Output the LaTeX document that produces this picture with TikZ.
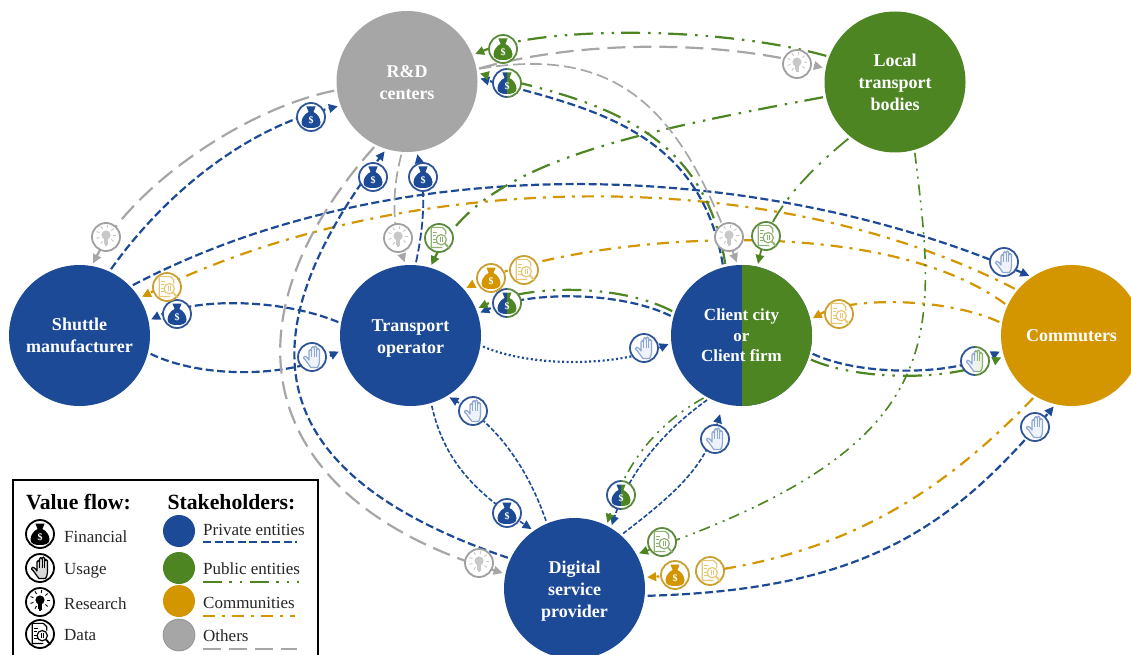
\documentclass[tikz,border=0pt]{standalone}
\usepackage{fontspec}
\setmainfont{Liberation Serif}
\usetikzlibrary{arrows.meta}
\definecolor{cbl}{HTML}{1C4A96}
\definecolor{cgr}{HTML}{4C8522}
\definecolor{cor}{HTML}{D39500}
\definecolor{cgy}{HTML}{A6A6A6}
\definecolor{rbl}{HTML}{2F5597}
\definecolor{rgr}{HTML}{5B8A3C}
\definecolor{ror}{HTML}{C9A030}
\definecolor{rgy}{HTML}{A0A0A0}
\definecolor{tbl}{HTML}{8FA8D4}
\definecolor{tgr}{HTML}{8DB272}
\definecolor{tor}{HTML}{E8C676}
\definecolor{tgy}{HTML}{C8C8C8}
\tikzset{
 x=1pt,y=-1pt,
 actor/.style={circle,minimum size=141pt,inner sep=0pt,outer sep=0pt,text=white,align=center,
   font=\bfseries\fontsize{18}{22}\selectfont},
 badge/.style={circle,minimum size=28pt,inner sep=0pt,outer sep=0pt,fill=white,line width=1.8pt},
 flow/.style={-{Triangle[length=9pt,width=8.5pt]},shorten >=3pt,shorten <=3pt},
 fpri/.style={flow,draw=cbl,line width=2.2pt,dash pattern=on 8pt off 3.5pt},
 fprit/.style={flow,draw=cbl,line width=1.6pt,dash pattern=on 4.5pt off 2pt},
 fdot/.style={flow,draw=cbl,line width=2.2pt,dash pattern=on 2pt off 2.5pt},
 fpub/.style={flow,draw=cgr,line width=2.2pt,dash pattern=on 19pt off 7pt on 2.5pt off 8pt on 2.5pt off 8pt},
 fpubt/.style={flow,draw=cgr,line width=1.6pt,dash pattern=on 11pt off 5pt on 2pt off 6pt on 2pt off 6pt},
 forg/.style={flow,draw=cor,line width=2.2pt,dash pattern=on 12pt off 7pt on 3pt off 7pt},
 foth/.style={flow,draw=cgy,line width=2.2pt,dash pattern=on 18pt off 8pt},
 otht/.style={flow,draw=cgy,line width=1.7pt,dash pattern=on 12pt off 5pt},
 legtxt/.style={anchor=west,inner sep=0pt,font=\fontsize{17}{18}\selectfont,text=black!85},
 legttl/.style={font=\bfseries\fontsize{21.7}{22}\selectfont},
 legdot/.style={circle,minimum size=32pt,inner sep=0pt,outer sep=0pt},
}
% icon bodies, drawn round the origin of the current scope
\newcommand\bagbody[2]{% colour, name
 \fill[#1] (-2.4,-5) .. controls (-6,-3.5) and (-9.5,1) .. (-9.5,5.5) .. controls (-9.5,10) and (-5,11) .. (0,11)
  .. controls (5,11) and (9.5,10) .. (9.5,5.5) .. controls (9.5,1) and (6,-3.5) .. (2.4,-5) -- (4.6,-10.5)
  .. controls (2.5,-9.5) and (1,-11.5) .. (0,-10.5) .. controls (-1,-11.5) and (-2.5,-9.5) .. (-4.6,-10.5) -- cycle;
 \node[text=white,inner sep=0pt,font=\bfseries\fontsize{10}{10}\selectfont] (#2-s) at (0,3.5) {\$};}
\newcommand\handbody[1]{\begin{scope}[xshift=2pt]
 \draw[#1,line width=1.2pt,line join=round,fill=#1!15] (-3,10.5) .. controls (-6,7) and (-8,3) .. (-10.5,1)
  .. controls (-11.5,-1) and (-8.5,-1.5) .. (-6.5,1) -- (-5,3) -- (-5,-6) .. controls (-5,-8) and (-2.5,-8) .. (-2.5,-6)
  -- (-2.5,-9) .. controls (-2.5,-11) and (0,-11) .. (0,-9) -- (0,-9.5) .. controls (0,-11.5) and (2.7,-11.5) .. (2.7,-9.5)
  -- (2.7,-7) .. controls (2.7,-9) and (5.5,-9) .. (5.5,-7) -- (5.5,4) .. controls (5.5,7) and (4.5,9) .. (3.5,10.5) -- cycle;
 \draw[#1,line width=0.8pt] (-2.5,-6) -- (-2.5,0) (0,-9) -- (0,0) (2.7,-7) -- (2.7,0);\end{scope}}
\newcommand\bulbbody[1]{%
 \fill[#1] (0,-2) circle (4.6);
 \fill[#1] (-2.4,1) rectangle (2.4,6.5);
 \fill[#1] (-1.4,6.5) rectangle (1.4,8.5);
 \foreach \a in {0,40,...,320}{\draw[#1,line width=0.9pt] ([shift={(0,-2)}]\a:7) -- ([shift={(0,-2)}]\a:10);}}
\newcommand\docbody[1]{\begin{scope}[scale=1.12]
 \draw[#1,line width=1.2pt,line join=round] (3,8.5) -- (-7,8.5) -- (-7,-9.5) -- (3,-9.5) -- (6,-6.5) -- (6,-3);
 \draw[#1,line width=1.1pt] (-5,-5) -- (-2,-5) (-5,-2) -- (-3,-2) (-5,1) -- (-3,1) (-5,4) -- (-2,4);
 \draw[#1,line width=1.2pt,fill=white] (2,1.5) circle (4.6);
 \draw[#1,line width=1.8pt] (5.4,5) -- (9,9);
 \draw[#1,line width=0.9pt] (1,-1) -- (1,4) (3,-1) -- (3,4);\end{scope}}
% name, position, ring colour, icon colour
\newcommand\fincon[4]{\node[badge,draw=#3] (#1) at (#2) {};
 \begin{scope}[shift={(#2)}]\bagbody{#4}{#1}\end{scope}}
\newcommand\usecon[4]{\node[badge,draw=#3] (#1) at (#2) {};
 \begin{scope}[shift={(#2)}]\handbody{#4}\end{scope}}
\newcommand\rescon[4]{\node[badge,draw=#3] (#1) at (#2) {};
 \begin{scope}[shift={(#2)}]\bulbbody{#4}\end{scope}}
\newcommand\datcon[4]{\node[badge,draw=#3] (#1) at (#2) {};
 \begin{scope}[shift={(#2)}]\docbody{#4}\end{scope}}
% two-tone badges
\newcommand\fintwo[2]{\node[badge] (#1) at (#2) {};
 \begin{scope}[shift={(#2)}]
  \begin{scope}\clip (-18,-18) rectangle (0,18);\draw[rbl,line width=1.8pt] (0,0) circle (14);\bagbody{cbl}{#1l}\end{scope}
  \begin{scope}\clip (0,-18) rectangle (18,18);\draw[rgr,line width=1.8pt] (0,0) circle (14);\bagbody{cgr}{#1r}\end{scope}
 \end{scope}}
\newcommand\usetwo[2]{\node[badge] (#1) at (#2) {};
 \begin{scope}[shift={(#2)}]
  \begin{scope}\clip (-18,-18) rectangle (0,18);\draw[rbl,line width=1.8pt] (0,0) circle (14);\handbody{tbl}\end{scope}
  \begin{scope}\clip (0,-18) rectangle (18,18);\draw[rgr,line width=1.8pt] (0,0) circle (14);\handbody{tgr}\end{scope}
 \end{scope}}
\begin{document}
\begin{tikzpicture}
\useasboundingbox (0,0) rectangle (1131,655);
% stakeholders
\node[actor,fill=cgy] (rd) at (407,81.5) {\rule{0pt}{14pt}R\&D\\centers};
\node[actor,fill=cgr] (lt) at (895,82) {Local\\transport\\bodies};
\node[actor,fill=cbl] (sm) at (79.5,335.5) {Shuttle\\manufacturer};
\node[actor,fill=cbl] (to) at (410.5,335.5) {\rule{0pt}{17pt}Transport\\operator};
\node[actor,fill=cbl,font=\bfseries\fontsize{17}{20.5}\selectfont,path picture={\fill[cgr] (path picture bounding box.north) rectangle (path picture bounding box.south east);}] (cl) at (741.5,335.5) {Client city\\or\\Client firm};
\node[actor,fill=cor] (co) at (1071.5,335.5) {Commuters};
\node[actor,fill=cbl] (ds) at (574.5,588.5) {\rule{0pt}{17pt}Digital\\service\\provider};
% connectors
\draw[fpri] (sm.65) .. controls (160,200) and (240,130) .. (rd.200);
\draw[foth] (rd.187) .. controls (240,110) and (130,190) .. (sm.80);
\draw[fpri] (sm.44) .. controls (400,145) and (760,160) .. (co.124);
\draw[forg] (co.140) .. controls (760,158) and (393,172) .. (sm.32);
\draw[fpri] (to.170) .. controls (280,298) and (195,298) .. (sm.12);
\draw[fpri] (sm.346) .. controls (200,378) and (285,378) .. (to.192);
\draw[fdot] (to.352) .. controls (530,367) and (615,367) .. (cl.186);
\draw[fpri] (cl.165) .. controls (620,291) and (530,291) .. (to.18);
\draw[fpub] (cl.161) .. controls (620,284) and (530,284) .. (to.22);
\draw[fprit,line width=1.8pt,dash pattern=on 8pt off 3pt] (to.86) .. controls (425,220) and (425,190) .. (rd.278);
\draw[otht] (rd.266) .. controls (392,190) and (392,225) .. (to.94);
\draw[fpri] (ds.155) .. controls (250,470) and (250,330) .. (rd.253);
\draw[foth] (rd.244) .. controls (215,326) and (260,500) .. (ds.168);
\draw[fprit] (to.287) .. controls (445,465) and (480,495) .. (ds.125);
\draw[fprit] (ds.113) .. controls (525,460) and (490,420) .. (to.301);
\draw[fpub] (lt.159) .. controls (720,26) and (545,26) .. (rd.22);
\draw[foth] (rd.10) .. controls (580,40) and (718,40) .. (lt.169);
\draw[fpub] (lt.192) .. controls (620,135) and (480,165) .. (to.74);
\draw[otht] (rd.10) .. controls (620,45) and (680,110) .. (cl.93);
\draw[fpri] (cl.105) .. controls (700,130) and (590,108) .. (rd.3);
\draw[fpub] (cl.103) .. controls (705,128) and (595,100) .. (rd.7);
\draw[fpub,line width=1.8pt] (lt.231) .. controls (810,170) and (770,210) .. (cl.77);
\draw[forg] (co.155) .. controls (870,205) and (559,240) .. (to.41);
\draw[forg] (co.170) .. controls (945,297) and (850,297) .. (cl.13);
\draw[fpri] (cl.346) .. controls (860,376) and (950,376) .. (co.192);
\draw[fpub] (cl.341) .. controls (860,381) and (950,381) .. (co.197);
\draw[fprit] (cl.243) .. controls (665,430) and (630,470) .. (ds.59);
\draw[fpubt] (cl.240) .. controls (655,425) and (625,465) .. (ds.63);
\draw[fprit,shorten >=11pt] (ds.49) .. controls (680,490) and (705,465) .. (cl.255);
\draw[fpubt] (lt.286) .. controls (938,340) and (950,445) .. (ds.29);
\draw[forg] (co.239) .. controls (935,500) and (830,565) .. (ds.9);
\draw[fpri] (ds.354) .. controls (860,590) and (950,530) .. (co.257);
% value badges
\fincon{fa}{311,117}{rbl}{cbl}
\fincon{fb}{373,177}{rbl}{cbl}
\fincon{fc}{423,177}{rbl}{cbl}
\fincon{fd}{177,314}{rbl}{cbl}
\fincon{fe}{507,513}{rbl}{cbl}
\fincon{ff}{503,49}{rgr}{cgr}
\fintwo{fg}{507,83}
\fintwo{fh}{507,303}
\fintwo{fi}{621,495}
\fincon{fj}{491,278}{ror}{cor}
\fincon{fk}{675,575}{ror}{cor}
\usecon{ua}{312,357}{rbl}{tbl}
\usecon{ub}{644,348}{rbl}{tbl}
\usecon{uc}{473,411}{rbl}{tbl}
\usecon{ud}{715,439}{rbl}{tbl}
\usecon{ue}{1004,262}{rbl}{tbl}
\usecon{uf}{1035,427}{rbl}{tbl}
\usetwo{ug}{975,361}
\rescon{ra}{106,237}{rgy}{tgy}
\rescon{rb}{398,238}{rgy}{tgy}
\rescon{rc}{729,237}{rgy}{tgy}
\rescon{rd2}{797,64}{rgy}{tgy}
\rescon{re}{479,563}{rgy}{tgy}
\datcon{da}{439,238}{rgr}{tgr}
\datcon{db}{766,236}{rgr}{tgr}
\datcon{dc}{662,542}{rgr}{tgr}
\datcon{dd}{167,287}{ror}{tor}
\datcon{de}{524,270}{ror}{tor}
\datcon{df}{839,314}{ror}{tor}
\datcon{dg}{710,571}{ror}{tor}
% legend
\node[draw=black,line width=2pt,fill=white,minimum width=305pt,minimum height=190pt,inner sep=0pt,anchor=north west] (legbox) at (11.5,478.5) {};
\node[legttl] (lt1) at (78.5,502) {Value flow:};
\node[legttl] (lt2) at (231.5,502) {Stakeholders:};
\fincon{lfa}{40,534}{black}{black}
\usecon{lfb}{40,568}{black}{black}
\rescon{lfc}{40,602}{black}{black}
\datcon{lfd}{40,634}{black}{black}
\node[legtxt] (lta) at (64,537) {Financial};
\node[legtxt] (ltb) at (64,571) {Usage};
\node[legtxt] (ltc) at (64,604) {Research};
\node[legtxt] (ltd) at (64,635) {Data};
\node[legdot,fill=cbl] (ldb) at (179,531) {};
\node[legdot,fill=cgr] (ldg) at (179,568) {};
\node[legdot,fill=cor] (ldo) at (179,601) {};
\node[legdot,fill=cgy,draw=black!45,line width=0.6pt] (ldy) at (179,635) {};
\node[legtxt] (lpa) at (203,530) {Private entities};
\node[legtxt] (lpb) at (203,569) {Public entities};
\node[legtxt] (lpc) at (203,603) {Communities};
\node[legtxt] (lpd) at (203,636) {Others};
\coordinate (s1a) at (203,542); \coordinate (s1b) at (297,542);
\coordinate (s2a) at (203,582); \coordinate (s2b) at (299,582);
\coordinate (s3a) at (203,616); \coordinate (s3b) at (295,616);
\coordinate (s4a) at (203,649); \coordinate (s4b) at (297,649);
\draw[draw=cbl,line width=2pt,dash pattern=on 8pt off 3.5pt] (s1a) -- (s1b);
\draw[draw=cgr,line width=2pt,dash pattern=on 19pt off 7pt on 2.5pt off 8pt on 2.5pt off 8pt] (s2a) -- (s2b);
\draw[draw=cor,line width=2pt,dash pattern=on 12pt off 7pt on 3pt off 7pt] (s3a) -- (s3b);
\draw[draw=cgy,line width=2pt,dash pattern=on 18pt off 8pt] (s4a) -- (s4b);
\end{tikzpicture}
\end{document}
